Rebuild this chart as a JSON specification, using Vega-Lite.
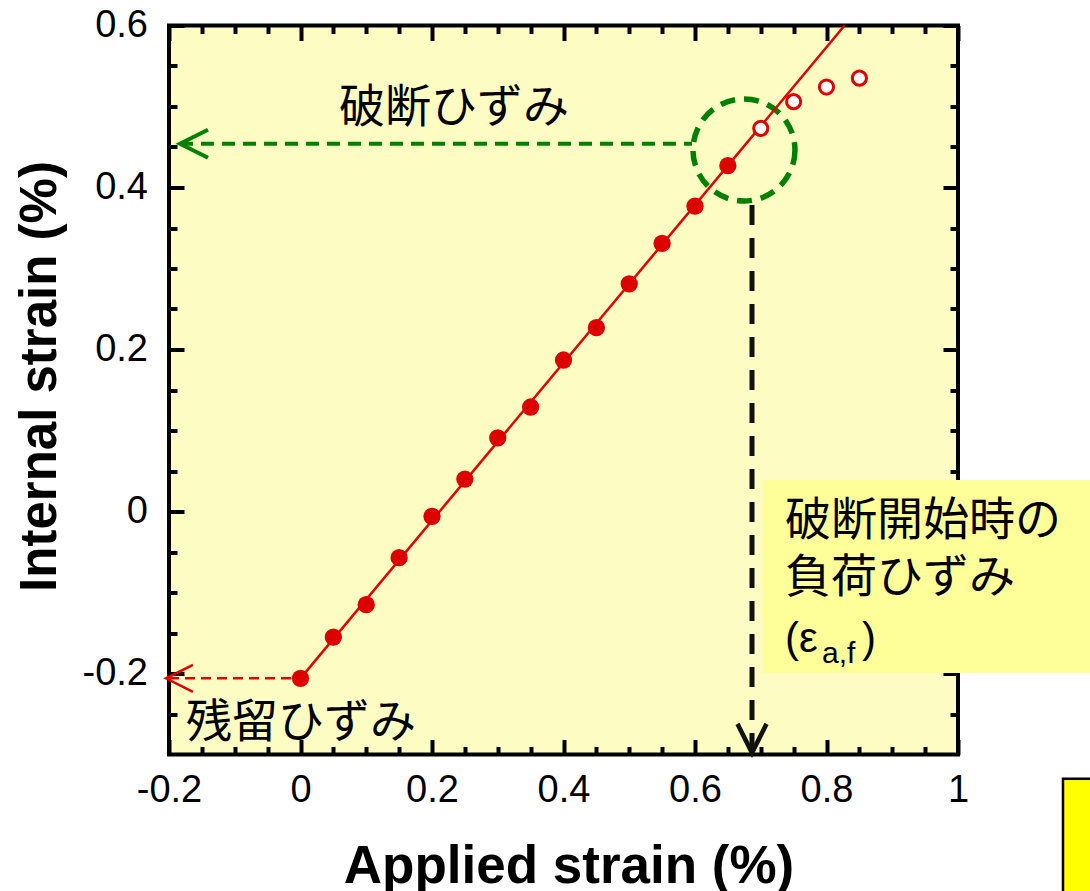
{
  "$schema": "https://vega.github.io/schema/vega-lite/v6.json",
  "width": 789,
  "height": 729,
  "autosize": {"type": "none"},
  "padding": {"left": 169, "top": 25.5, "right": 132, "bottom": 136.5},
  "background": "#ffffff",
  "config": {
    "view": {"fill": "#FDFDC3", "stroke": "#000000", "strokeWidth": 4},
    "axis": {
      "labelFont": "Liberation Sans", "labelFontSize": 38, "labelColor": "#000000",
      "tickColor": "#000000", "tickWidth": 4, "domain": false, "grid": false,
      "labelOverlap": false, "labelFlush": false, "labelBound": false,
      "titleFont": "Liberation Sans", "titleFontWeight": "bold", "titleFontSize": 51, "titleColor": "#000000"
    }
  },
  "datasets": {
    "pts": [
      {"x": 0, "y": -0.206, "kind": "filled"},
      {"x": 0.05, "y": -0.155, "kind": "filled"},
      {"x": 0.1, "y": -0.115, "kind": "filled"},
      {"x": 0.15, "y": -0.057, "kind": "filled"},
      {"x": 0.2, "y": -0.006, "kind": "filled"},
      {"x": 0.25, "y": 0.04, "kind": "filled"},
      {"x": 0.3, "y": 0.091, "kind": "filled"},
      {"x": 0.35, "y": 0.129, "kind": "filled"},
      {"x": 0.4, "y": 0.187, "kind": "filled"},
      {"x": 0.45, "y": 0.227, "kind": "filled"},
      {"x": 0.5, "y": 0.281, "kind": "filled"},
      {"x": 0.55, "y": 0.331, "kind": "filled"},
      {"x": 0.6, "y": 0.377, "kind": "filled"},
      {"x": 0.65, "y": 0.427, "kind": "filled"},
      {"x": 0.7, "y": 0.473, "kind": "open"},
      {"x": 0.75, "y": 0.506, "kind": "open"},
      {"x": 0.8, "y": 0.524, "kind": "open"},
      {"x": 0.85, "y": 0.535, "kind": "open"}
    ]
  },
  "encoding": {
    "x": {"field": "x", "type": "quantitative", "scale": {"domain": [-0.2, 1], "nice": false, "zero": false}, "axis": null},
    "y": {"field": "y", "type": "quantitative", "scale": {"domain": [-0.3, 0.6], "nice": false, "zero": false}, "axis": null}
  },
  "resolve": {"axis": {"x": "independent", "y": "independent"}},
  "layer": [
    {
      "data": {"values": [{"x": 0.7034, "x2": 1.25, "y": 0.0389, "y2": -0.1994}]},
      "mark": {"type": "rect", "fill": "#FFFF99", "clip": false},
      "encoding": {"x2": {"field": "x2"}, "y2": {"field": "y2"}}
    },
    {
      "data": {"values": [{"x": 1.1597, "x2": 1.4, "y": -0.33, "y2": -0.6}]},
      "mark": {"type": "rect", "fill": "#FFFF00", "stroke": "#000000", "strokeWidth": 2.5, "clip": false},
      "encoding": {"x2": {"field": "x2"}, "y2": {"field": "y2"}}
    },
    {
      "data": {"values": [{"x": -0.2, "y": -0.206}, {"x": 0, "y": -0.206}]},
      "mark": {"type": "line", "stroke": "#E00000", "strokeWidth": 2.5, "strokeDash": [10, 6]}
    },
    {
      "data": {"values": [{"x": -0.2046, "y": -0.206}]},
      "mark": {"type": "point", "shape": "M 2 -1 L 0 0 L 2 1", "size": 729, "filled": false, "stroke": "#E00000", "strokeWidth": 2.5, "opacity": 1, "clip": false}
    },
    {
      "data": {"values": [{"x": -0.1833, "y": 0.454}, {"x": 0.5954, "y": 0.454}]},
      "mark": {"type": "line", "stroke": "#008000", "strokeWidth": 4, "strokeDash": [13, 8]}
    },
    {
      "data": {"values": [{"x": -0.1833, "y": 0.454}]},
      "mark": {"type": "point", "shape": "M 2 -1 L 0 0 L 2 1", "size": 784, "filled": false, "stroke": "#008000", "strokeWidth": 4, "opacity": 1}
    },
    {
      "data": {"values": [{"x": 0.6745, "y": 0.4463}]},
      "mark": {"type": "point", "shape": "circle", "size": 10404, "filled": false, "stroke": "#008000", "strokeWidth": 5.5, "strokeDash": [15, 9], "opacity": 1}
    },
    {
      "data": {"values": [{"x": 0.6867, "y": 0.3784}, {"x": 0.6867, "y": -0.296}]},
      "mark": {"type": "line", "stroke": "#111111", "strokeWidth": 5, "strokeDash": [20, 13]}
    },
    {
      "data": {"values": [{"x": 0.6867, "y": -0.298}]},
      "mark": {"type": "point", "shape": "M -1 -2 L 0 0 L 1 -2", "size": 841, "filled": false, "stroke": "#111111", "strokeWidth": 4.5, "opacity": 1}
    },
    {
      "data": {"values": [{"x": 0, "y": -0.206}, {"x": 0.8275, "y": 0.6}]},
      "mark": {"type": "line", "stroke": "#E00000", "strokeWidth": 2.5},
      "encoding": {
        "x": {"field": "x", "type": "quantitative", "scale": {"domain": [-0.2, 1], "nice": false, "zero": false},
          "axis": {"orient": "top", "labels": false, "title": null,
            "values": [-0.2, -0.15, -0.1, -0.05, 0, 0.05, 0.1, 0.15, 0.2, 0.25, 0.3, 0.35, 0.4, 0.45, 0.5, 0.55, 0.6, 0.65, 0.7, 0.75, 0.8, 0.85, 0.9, 0.95, 1],
            "tickSize": {"condition": {"test": "indexof([-0.2,0,0.2,0.4,0.6,0.8,1], datum.value) >= 0", "value": -15}, "value": -8}}},
        "y": {"field": "y", "type": "quantitative", "scale": {"domain": [-0.3, 0.6], "nice": false, "zero": false},
          "axis": {"orient": "right", "labels": false, "title": null,
            "values": [-0.25, -0.2, -0.15, -0.1, -0.05, 0, 0.05, 0.1, 0.15, 0.2, 0.25, 0.3, 0.35, 0.4, 0.45, 0.5, 0.55, 0.6],
            "tickSize": {"condition": {"test": "indexof([-0.2,0,0.2,0.4,0.6], datum.value) >= 0", "value": -15}, "value": -8}}}
      }
    },
    {
      "data": {"name": "pts"},
      "transform": [{"filter": "datum.kind == 'filled'"}],
      "mark": {"type": "point", "shape": "circle", "filled": true, "fill": "#DD0000", "size": 300, "opacity": 1},
      "encoding": {
        "x": {"field": "x", "type": "quantitative", "scale": {"domain": [-0.2, 1], "nice": false, "zero": false},
          "axis": {"orient": "bottom", "title": "Applied strain (%)", "titleX": 399.5, "titleY": 127.5, "titleBaseline": "alphabetic",
            "titleFontSize": 53, "labelPadding": 32,
            "values": [-0.2, -0.15, -0.1, -0.05, 0, 0.05, 0.1, 0.15, 0.2, 0.25, 0.3, 0.35, 0.4, 0.45, 0.5, 0.55, 0.6, 0.65, 0.7, 0.75, 0.8, 0.85, 0.9, 0.95, 1],
            "labelExpr": "indexof([-0.2,0,0.2,0.4,0.6,0.8,1], datum.value) >= 0 ? '' + datum.value : ''",
            "tickSize": {"condition": {"test": "indexof([-0.2,0,0.2,0.4,0.6,0.8,1], datum.value) >= 0", "value": -15}, "value": -8}}},
        "y": {"field": "y", "type": "quantitative", "scale": {"domain": [-0.3, 0.6], "nice": false, "zero": false},
          "axis": {"orient": "left", "title": "Internal strain (%)", "titleX": -114, "titleY": 350.5, "titleBaseline": "alphabetic",
            "labelPadding": 36.5,
            "values": [-0.25, -0.2, -0.15, -0.1, -0.05, 0, 0.05, 0.1, 0.15, 0.2, 0.25, 0.3, 0.35, 0.4, 0.45, 0.5, 0.55, 0.6],
            "labelExpr": "indexof([-0.2,0,0.2,0.4,0.6], datum.value) >= 0 ? '' + datum.value : ''",
            "tickSize": {"condition": {"test": "indexof([-0.2,0,0.2,0.4,0.6], datum.value) >= 0", "value": -15}, "value": -8}}}
      }
    },
    {
      "data": {"name": "pts"},
      "transform": [{"filter": "datum.kind == 'open'"}],
      "mark": {"type": "point", "shape": "circle", "filled": true, "fill": "#FFFFFF", "stroke": "#E00000", "strokeWidth": 3, "size": 200, "opacity": 1}
    },
    {
      "data": {"values": [
        {"x": 0.2335, "y": 0.498, "t": "破断ひずみ"},
        {"x": 0.0008, "y": -0.261, "t": "残留ひずみ"}
      ]},
      "mark": {"type": "text", "font": "Noto Sans CJK JP", "fontSize": 46, "align": "center", "baseline": "middle", "color": "#000000", "clip": false},
      "encoding": {"text": {"field": "t"}}
    },
    {
      "data": {"values": [
        {"x": 0.7369, "y": -0.0117, "t": "破断開始時の"},
        {"x": 0.7369, "y": -0.0821, "t": "負荷ひずみ"}
      ]},
      "mark": {"type": "text", "font": "Noto Sans CJK JP", "fontSize": 46, "align": "left", "baseline": "middle", "color": "#000000", "clip": false},
      "encoding": {"text": {"field": "t"}}
    },
    {
      "data": {"values": [{"x": 0.7369, "y": -0.1735, "t": "(ε"}]},
      "mark": {"type": "text", "font": "Liberation Sans", "fontSize": 42, "align": "left", "baseline": "alphabetic", "color": "#000000", "clip": false},
      "encoding": {"text": {"field": "t"}}
    },
    {
      "data": {"values": [{"x": 0.7369, "y": -0.1735, "t": "a,f"}]},
      "mark": {"type": "text", "font": "Liberation Sans", "fontSize": 30, "align": "left", "baseline": "alphabetic", "dx": 37, "dy": 11, "color": "#000000", "clip": false},
      "encoding": {"text": {"field": "t"}}
    },
    {
      "data": {"values": [{"x": 0.7369, "y": -0.1735, "t": ")"}]},
      "mark": {"type": "text", "font": "Liberation Sans", "fontSize": 42, "align": "left", "baseline": "alphabetic", "dx": 77, "color": "#000000", "clip": false},
      "encoding": {"text": {"field": "t"}}
    }
  ]
}
